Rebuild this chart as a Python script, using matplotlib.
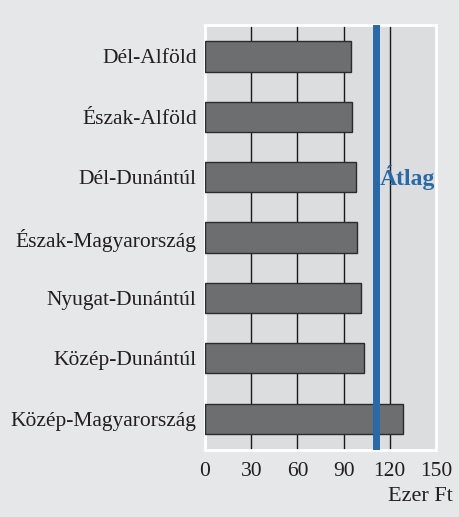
import matplotlib.pyplot as plt

regions = ["Dél-Alföld", "Észak-Alföld", "Dél-Dunántúl", "Észak-Magyarország",
           "Nyugat-Dunántúl", "Közép-Dunántúl", "Közép-Magyarország"]
values = [95, 95.2, 98, 98.5, 101, 103, 128.5]
average = 111.3
x_ticks = [0, 30, 60, 90, 120, 150]

plt.rcParams["font.family"] = ["Liberation Serif", "DejaVu Serif"]

fig = plt.figure(figsize=(4.6, 5.17), dpi=100)
fig.patch.set_facecolor("#e6e7e8")
ax = fig.add_axes([0.4457, 0.1296, 0.502, 0.822])
ax.set_facecolor("#dcdddf")

y = list(range(len(regions)))
ax.barh(y, values, height=0.5, color="#6d6e70", edgecolor="#2b2b2b",
        linewidth=1, zorder=3)
ax.axvline(average, color="#2a69a6", linewidth=5, zorder=4)
ax.text(average + 2.5, 2, "Átlag", color="#2a69a6", fontsize=17,
        fontweight="bold", va="center", ha="left", clip_on=False, zorder=5)

ax.set_xlim(0, 150)
ax.set_ylim(6.52, -0.52)
ax.set_xticks(x_ticks)
ax.set_yticks(y)
ax.set_yticklabels(regions)
ax.tick_params(axis="both", length=0, labelsize=15.5, colors="#231f20")
ax.tick_params(axis="y", pad=6)
ax.tick_params(axis="x", pad=9)
for xv in x_ticks[1:-1]:
    ax.axvline(xv, color="#1a1a1a", linewidth=1, zorder=1)
for s in ax.spines.values():
    s.set_color("white")
    s.set_linewidth(2)

fig.text(0.985, 0.04, "Ezer Ft", fontsize=16, ha="right", va="center",
         color="#231f20")

fig.savefig("out.png", dpi=100, facecolor=fig.get_facecolor())
